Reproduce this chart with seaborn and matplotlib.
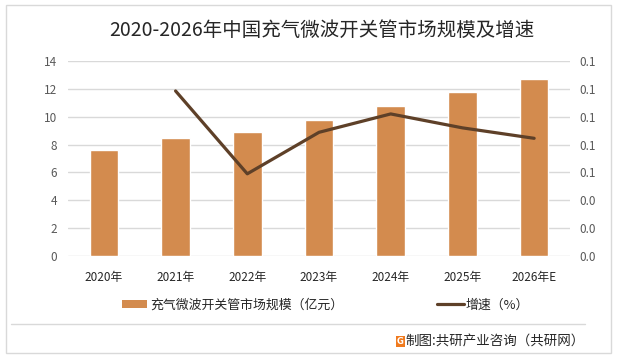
import numpy as np
import pandas as pd
import matplotlib
matplotlib.use("Agg")
import matplotlib.pyplot as plt
import seaborn as sns
from matplotlib.patches import Rectangle, Patch
from matplotlib.lines import Line2D

# ---- data ----
years = ["2020年", "2021年", "2022年", "2023年", "2024年", "2025年", "2026年E"]
market_size = [7.6, 8.5, 8.9, 9.8, 10.8, 11.8, 12.7]          # 亿元
growth = [np.nan, 0.1185, 0.059, 0.0888, 0.102, 0.092, 0.0845]  # 增速
left_ticks = [0, 2, 4, 6, 8, 10, 12, 14]
right_ticks = [0.0, 0.02, 0.04, 0.06, 0.08, 0.10, 0.12, 0.14]

title = "2020-2026年中国充气微波开关管市场规模及增速"
bar_label = "充气微波开关管市场规模（亿元）"
line_label = "增速（%）"
source = "制图:共研产业咨询（共研网）"

bar_color = "#D38B4E"
line_color = "#5E4028"
grid_color = "#D9D9D9"

sns.set_theme(style="white")
plt.rcParams["font.family"] = ["Noto Sans CJK SC", "DejaVu Sans"]

W, H = 618, 359
fig = plt.figure(figsize=(W / 100, H / 100), dpi=100)
ax = fig.add_axes([68 / W, 1 - 256 / H, (570 - 68) / W, (256 - 61) / H])

df = pd.DataFrame({"year": years, "size": market_size, "growth": growth})
sns.barplot(data=df, x="year", y="size", color=bar_color, saturation=1,
            width=0.4, ax=ax, zorder=2)
ax.set_ylim(0, 14)
ax.set_yticks(left_ticks)
ax.set_xlabel("")
ax.set_ylabel("")
ax.set_axisbelow(True)
ax.yaxis.grid(True, color=grid_color, linewidth=1)
ax.xaxis.grid(False)
for s in ax.spines.values():
    s.set_visible(False)
ax.tick_params(axis="y", length=0, pad=8, labelsize=8.5, labelcolor="#595959")
ax.tick_params(axis="x", length=0, pad=11, labelsize=8.5, labelcolor="#262626")

ax2 = ax.twinx()
df["pos"] = range(len(years))
sns.lineplot(data=df.dropna(), x="pos", y="growth", color=line_color,
             linewidth=2.3, ax=ax2)
ax2.set_ylim(0, 0.14)
ax2.set_yticks(right_ticks)
ax2.set_yticklabels([f"{v:.1f}" for v in right_ticks])
ax2.set_ylabel("")
ax2.set_xlabel("")
ax2.set_xlim(-0.5, len(years) - 0.5)
for s in ax2.spines.values():
    s.set_visible(False)
ax2.tick_params(axis="y", length=0, pad=7, labelsize=8.5, labelcolor="#595959")

# title
fig.text(322 / W, 1 - 30 / H, title, ha="center", va="center",
         fontsize=14, color="#262626")

# legends
fs_leg = 9.3
px = fs_leg * 100 / 72
leg1 = fig.legend(handles=[Patch(facecolor=bar_color, edgecolor="none")],
                  labels=[bar_label], loc="center left",
                  bbox_to_anchor=(122 / W, 1 - 305 / H), frameon=False,
                  fontsize=fs_leg, borderpad=0, borderaxespad=0,
                  handlelength=25 / px, handleheight=0.55,
                  handletextpad=3 / px)
for t in leg1.get_texts():
    t.set_color("#262626")
leg2 = fig.legend(handles=[Line2D([0], [0], color=line_color, linewidth=2.3)],
                  labels=[line_label], loc="center left",
                  bbox_to_anchor=(437 / W, 1 - 305 / H), frameon=False,
                  fontsize=fs_leg, borderpad=0, borderaxespad=0,
                  handlelength=27 / px, handletextpad=2 / px)
for t in leg2.get_texts():
    t.set_color("#262626")

# separator line and border
fig.add_artist(Line2D([11 / W, 585 / W], [1 - 324 / H, 1 - 324 / H],
                      color="#D9D9D9", linewidth=1, transform=fig.transFigure))
fig.add_artist(Rectangle((6 / W, 1 - 353 / H), (611 - 6) / W, (353 - 5) / H,
                         fill=False, edgecolor="#D9D9D9", linewidth=1,
                         transform=fig.transFigure))

# source with logo
fig.add_artist(Rectangle((396 / W, 1 - 347 / H), 9 / W, 11 / H,
                         facecolor="#F07A1E", edgecolor="none",
                         transform=fig.transFigure))
fig.text(400.5 / W, 1 - 341.5 / H, "G", ha="center", va="center",
         fontsize=6, fontweight="bold", color="white", family="DejaVu Sans")
fig.text(585 / W, 1 - 341.5 / H, source, ha="right", va="center",
         fontsize=9.7, color="#262626")

fig.savefig("out.png", dpi=100)
